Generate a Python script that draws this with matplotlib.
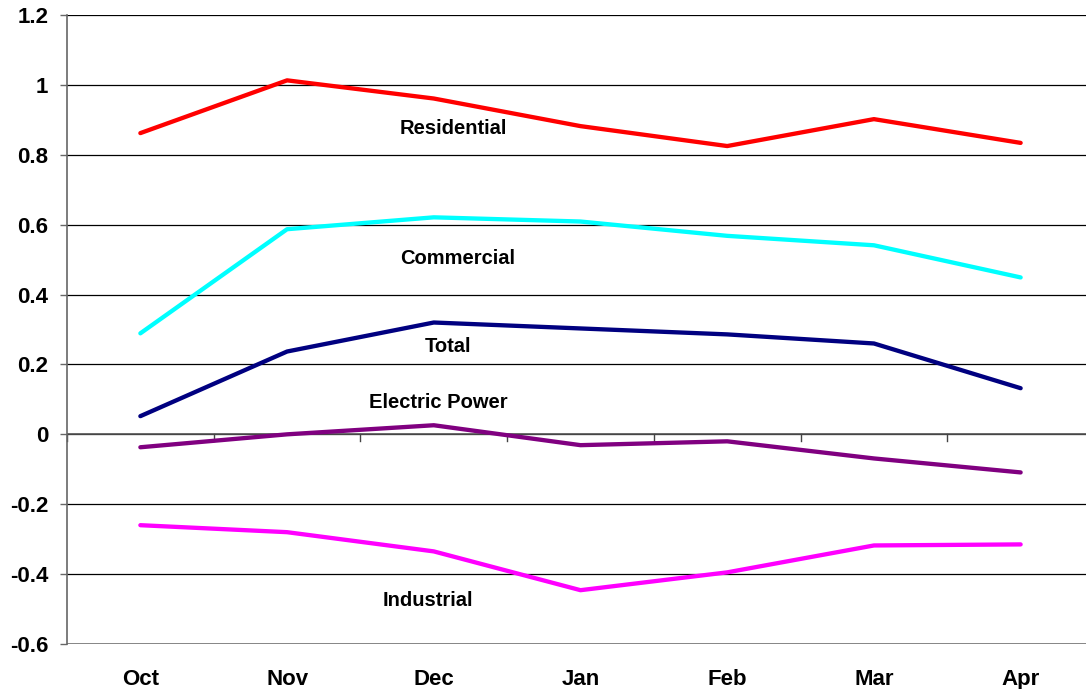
import matplotlib
matplotlib.use("Agg")
import matplotlib.pyplot as plt

months = ["Oct", "Nov", "Dec", "Jan", "Feb", "Mar", "Apr"]
residential = [0.862, 1.013, 0.961, 0.882, 0.825, 0.902, 0.834]
commercial = [0.289, 0.587, 0.621, 0.609, 0.568, 0.541, 0.449]
total = [0.052, 0.237, 0.320, 0.303, 0.286, 0.260, 0.132]
electric_power = [-0.037, 0.0, 0.026, -0.031, -0.020, -0.069, -0.109]
industrial = [-0.260, -0.280, -0.335, -0.446, -0.395, -0.318, -0.315]

series = [
    ("Residential", residential, "#FF0000", (2.13, 0.876)),
    ("Commercial", commercial, "#00FFFF", (2.165, 0.504)),
    ("Total", total, "#000080", (2.10, 0.252)),
    ("Electric Power", electric_power, "#800080", (2.03, 0.092)),
    ("Industrial", industrial, "#FF00FF", (1.96, -0.475)),
]

plt.rcParams['font.family'] = ['Liberation Sans', 'DejaVu Sans']
fig = plt.figure(figsize=(10.86, 6.89), dpi=100)
W, H = 1086, 689
ax = fig.add_axes([67 / W, (H - 644) / H, (1094 - 67) / W, (644 - 15) / H])

x = list(range(len(months)))
for name, vals, color, (tx, ty) in series:
    ax.plot(x, vals, color=color, lw=3.1, solid_capstyle='round', zorder=3)
    ax.text(tx, ty, name, ha='center', va='center', fontsize=14.5,
            fontweight='bold', zorder=4)

ax.set_xlim(-0.5, 6.5)
ax.set_ylim(-0.6, 1.2)
ax.set_yticks([-0.6, -0.4, -0.2, 0, 0.2, 0.4, 0.6, 0.8, 1, 1.2])
ax.set_yticklabels(["-0.6", "-0.4", "-0.2", "0", "0.2", "0.4", "0.6", "0.8", "1", "1.2"])
for lab in ax.get_yticklabels():
    lab.set_fontweight('bold')
    lab.set_fontsize(16)
ax.yaxis.grid(True, color='black', lw=0.9)
ax.set_axisbelow(True)
ax.tick_params(axis='y', length=5, width=1, color='#666666', pad=8.5)

ax.set_xticks(x)
ax.set_xticklabels(months, fontsize=16, fontweight='bold')
ax.tick_params(axis='x', length=0, pad=18)

for s in ['top', 'right', 'bottom']:
    ax.spines[s].set_visible(False)
ax.spines['left'].set_color('#666666')
ax.spines['left'].set_linewidth(1.2)

# zero axis line with tick marks between categories
ax.axhline(0, color='#555555', lw=1.2, zorder=2)
ax.axhline(-0.6, color='#777777', lw=1.2, zorder=2)
for b in [i + 0.5 for i in range(-1, len(months))]:
    ax.plot([b, b], [0, -0.02], color='#444444', lw=1.0, zorder=2, clip_on=False)

fig.savefig("out.png", dpi=100)
